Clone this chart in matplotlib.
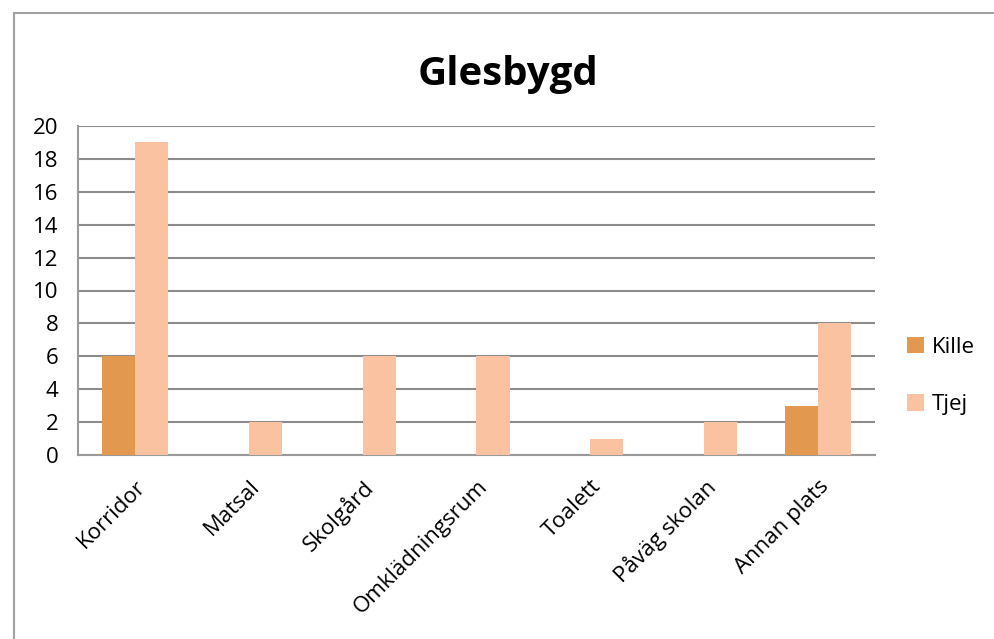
import numpy as np
import matplotlib.pyplot as plt
from matplotlib.patches import Rectangle

categories = ['Korridor', 'Matsal', 'Skolgård', 'Omklädningsrum', 'Toalett', 'Påväg skolan', 'Annan plats']
kille = [6, 0, 0, 0, 0, 0, 3]
tjej = [19, 2, 6, 6, 1, 2, 8]
yticks = list(range(0, 21, 2))

plt.rcParams['font.family'] = ['Open Sans', 'DejaVu Sans']

fig = plt.figure(figsize=(9.95, 6.39), dpi=100)
ax = fig.add_axes([78 / 995, 1 - 455 / 639, (875 - 78) / 995, (455 - 126) / 639])

x = np.arange(len(categories))
w = 0.29
ax.bar(x - w / 2, kille, w, color='#E3984F', label='Kille', zorder=3)
ax.bar(x + w / 2, tjej, w, color='#FAC2A0', label='Tjej', zorder=3)

ax.set_xlim(-0.5, len(categories) - 0.5)
ax.set_ylim(0, 20)
ax.set_yticks(yticks)
ax.tick_params(axis='y', length=0, labelsize=16, pad=14)
ax.tick_params(axis='x', length=0, labelsize=16, pad=15)
ax.set_xticks(x)
ax.set_xticklabels(categories, rotation=45, ha='right', rotation_mode='anchor')
ax.yaxis.grid(True, color='#8c8c8c', lw=1.5, zorder=0)
for s in ['top', 'right']:
    ax.spines[s].set_visible(False)
for s in ['left', 'bottom']:
    ax.spines[s].set_color('#9a9a9a')
    ax.spines[s].set_linewidth(1.5)

fig.text(508 / 995, 1 - 75 / 639, 'Glesbygd', ha='center', va='center',
         fontsize=29, fontweight='bold')

fig.legend(loc='center left', bbox_to_anchor=(887 / 995, 1 - 376 / 639), frameon=False,
           fontsize=16, handlelength=0.75, handleheight=0.75, handletextpad=0.35,
           labelspacing=1.65)

fig.patches.append(Rectangle((14 / 995, -0.1), 1.2, 1 - 13 / 639 + 0.1,
                             transform=fig.transFigure, fill=False,
                             edgecolor='#a0a0a0', lw=1.5))

fig.savefig('out.png', dpi=100)
